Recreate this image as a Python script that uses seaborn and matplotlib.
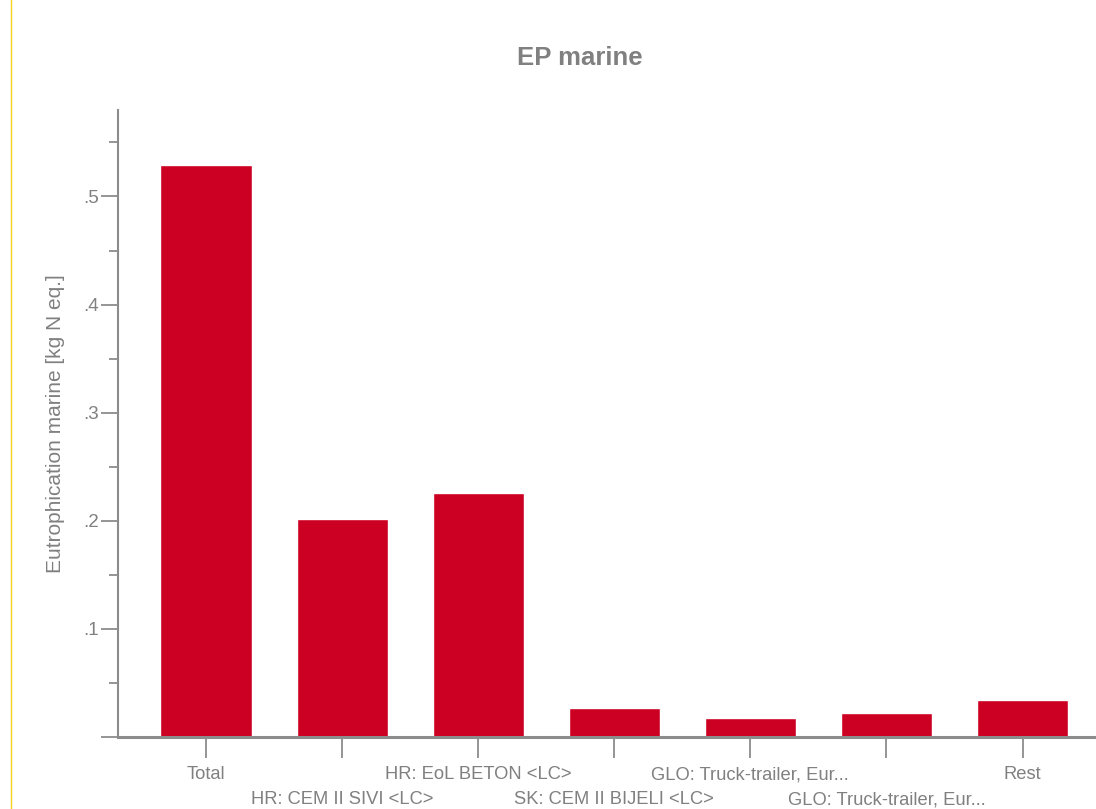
import matplotlib
matplotlib.use("Agg")
import matplotlib.pyplot as plt
from matplotlib.lines import Line2D
from matplotlib.ticker import MultipleLocator, FuncFormatter
import seaborn as sns
import pandas as pd

# data
categories = [
    "Total",
    "HR: CEM II SIVI <LC>",
    "HR: EoL BETON <LC>",
    "SK: CEM II BIJELI <LC>",
    "GLO: Truck-trailer, Eur...",
    "GLO: Truck-trailer, Eur... ",
    "Rest",
]
values = [0.529, 0.202, 0.226, 0.027, 0.0176, 0.0222, 0.0343]

bar_color = "#cc0022"
grey = "#8c8c8c"
text_grey = "#808080"

sns.set_style("white")
plt.rcParams["font.family"] = ["Liberation Sans", "DejaVu Sans"]

df = pd.DataFrame({"category": categories, "value": values})

fig = plt.figure(figsize=(10.96, 8.09), dpi=100)
ax = fig.add_axes([118 / 1096, 72 / 809, 978 / 1096, 627 / 809])

sns.barplot(data=df, x="category", y="value", color=bar_color, width=0.67,
            saturation=1, ax=ax, zorder=1)

ax.set_xlim(-0.647, 6.54)
ax.set_ylim(0, 0.58)

# staggered labels: even categories on the first row (major ticks),
# odd categories on the second row (minor ticks with a bigger pad)
idx = list(range(len(categories)))
even = [i for i in idx if i % 2 == 0]
odd = [i for i in idx if i % 2 == 1]
ax.set_xticks(even)
ax.set_xticklabels([categories[i].strip() for i in even], fontsize=13.2, color=text_grey)
ax.set_xticks(odd, minor=True)
ax.set_xticklabels([categories[i].strip() for i in odd], minor=True, fontsize=13.2, color=text_grey)

ax.yaxis.set_major_locator(MultipleLocator(0.1))
ax.yaxis.set_minor_locator(MultipleLocator(0.05))
ax.yaxis.set_major_formatter(FuncFormatter(lambda v, p: "" if abs(v) < 1e-9 else ("%.1f" % v).lstrip("0")))
ax.tick_params(axis="y", which="major", length=12, width=1.3, color=grey,
               labelsize=13.5, labelcolor=text_grey, pad=2, left=True)
ax.tick_params(axis="y", which="minor", length=6.5, width=1.3, color=grey, left=True)
ax.tick_params(axis="x", which="major", length=15, width=1.3, color=grey, pad=6, bottom=True)
ax.tick_params(axis="x", which="minor", length=15, width=1.3, color=grey, pad=24, bottom=True)

for side in ["top", "right"]:
    ax.spines[side].set_visible(False)
ax.spines["left"].set_color(grey)
ax.spines["left"].set_linewidth(1.5)
ax.spines["bottom"].set_color(grey)
ax.spines["bottom"].set_linewidth(2.2)
ax.spines["bottom"].set_zorder(3)

ax.set_xlabel("")
ax.set_ylabel("Eutrophication marine [kg N eq.]", fontsize=15, color=text_grey, labelpad=13)

fig.text(580 / 1096, 1 - 58 / 809, "EP marine", ha="center", va="center",
         fontsize=18.5, fontweight="bold", color=text_grey)

fig.add_artist(Line2D([11 / 1096, 11 / 1096], [0, 1], transform=fig.transFigure,
                      color="#f5d31c", linewidth=1))

fig.savefig("out.png", dpi=100)
